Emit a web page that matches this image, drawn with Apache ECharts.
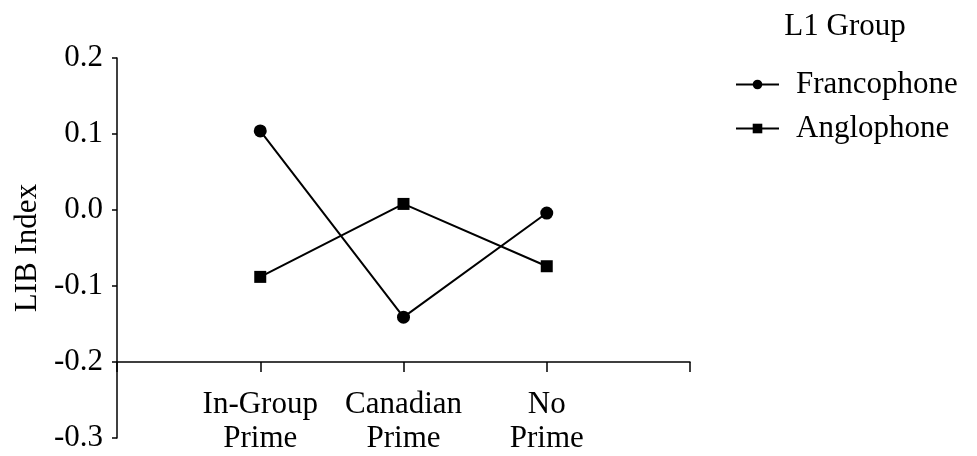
<!DOCTYPE html>
<html>
<head>
<meta charset="utf-8">
<script src="https://cdn.jsdelivr.net/npm/echarts@6/dist/echarts.min.js"></script>
<style>html,body{margin:0;padding:0;background:#fff}#c{width:977px;height:456px}</style>
</head>
<body>
<div id="c"></div>
<script>
const categories = ['In-Group\nPrime', 'Canadian\nPrime', 'No\nPrime'];
const francophone = [0.104, -0.141, -0.004];
const anglophone = [-0.088, 0.008, -0.074];
const yTicks = [-0.3, -0.2, -0.1, 0.0, 0.1, 0.2];

const font = 'Liberation Serif';
const fs = 31;
const chart = echarts.init(document.getElementById('c'));
const toPts = arr => arr.map((v, i) => [i + 1, v]);
chart.setOption({
  animation: false,
  title: {
    text: 'L1 Group', left: 840, top: 6, textAlign: 'center',
    textStyle: {fontFamily: font, fontSize: fs, fontWeight: 'normal', color: '#000'}
  },
  legend: {
    orient: 'vertical', left: 735, top: 69, padding: 0,
    itemWidth: 43, itemHeight: 12, itemGap: 13,
    textStyle: {fontFamily: font, fontSize: fs, color: '#000', padding: [0, 0, 0, 12]},
    data: ['Francophone', 'Anglophone']
  },
  grid: {left: 117, right: 287, top: 58, bottom: 18, containLabel: false, outerBoundsMode: 'none'},
  xAxis: {
    type: 'value', min: 0, max: categories.length + 1, interval: 1,
    offset: -76,
    splitLine: {show: false},
    axisLine: {onZero: false, lineStyle: {color: '#000', width: 1.5}},
    axisTick: {length: 10, lineStyle: {color: '#000', width: 1.5}},
    axisLabel: {
      margin: 26, fontFamily: font, fontSize: fs, color: '#000', lineHeight: 34,
      formatter: v => (v >= 1 && v <= categories.length) ? categories[v - 1] : ''
    }
  },
  yAxis: {
    type: 'value', min: yTicks[0], max: yTicks[yTicks.length - 1], interval: 0.1,
    name: 'LIB Index', nameLocation: 'middle', nameGap: 74,
    nameTextStyle: {fontFamily: font, fontSize: fs, color: '#000'},
    splitLine: {show: false},
    axisLine: {show: true, onZero: false, lineStyle: {color: '#000', width: 1.5}},
    axisTick: {show: true, length: 5, lineStyle: {color: '#000', width: 1.5}},
    axisLabel: {margin: 14, fontFamily: font, fontSize: fs, color: '#000',
      formatter: v => v.toFixed(1)}
  },
  series: [
    {name: 'Francophone', type: 'line', data: toPts(francophone), symbol: 'circle', symbolSize: 13,
      itemStyle: {color: '#000'}, lineStyle: {color: '#000', width: 2}},
    {name: 'Anglophone', type: 'line', data: toPts(anglophone), symbol: 'rect', symbolSize: 12,
      itemStyle: {color: '#000'}, lineStyle: {color: '#000', width: 2}}
  ]
});
</script>
</body>
</html>
